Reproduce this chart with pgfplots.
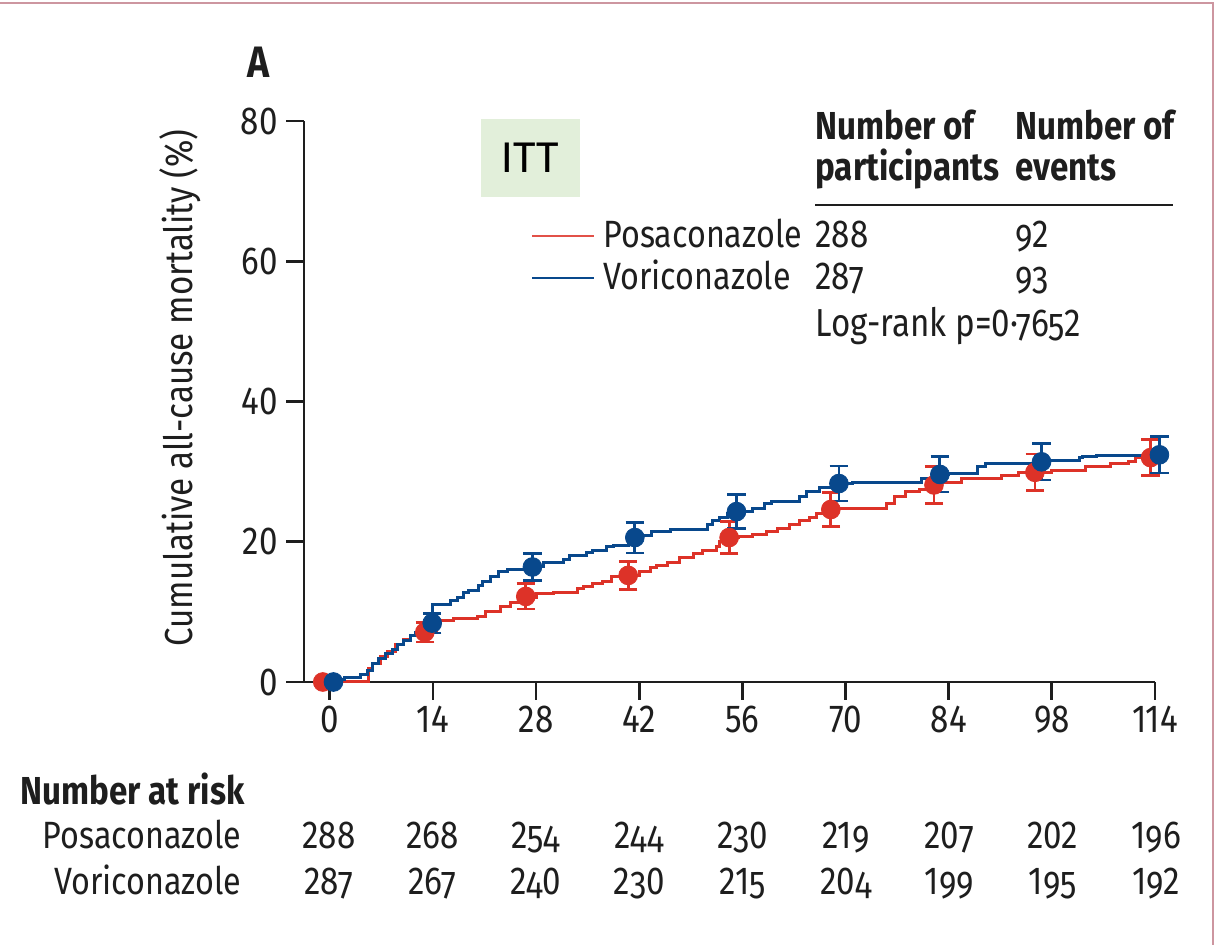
\documentclass[border=0pt]{standalone}
\usepackage{fontspec}
\setmainfont{Fira Sans}[FakeStretch=0.85]
\newfontfamily\osf{Fira Sans}[FakeStretch=0.85,Numbers=OldStyle]
\newfontfamily\lnf{Fira Sans}[FakeStretch=0.85,Numbers=Lining]
\newfontfamily\ittfont{Carlito}
\usepackage{pgfplots}
\pgfplotsset{compat=1.18}

\definecolor{posa}{RGB}{221,50,40}
\definecolor{vori}{RGB}{8,72,140}
\definecolor{ittbg}{RGB}{226,239,218}
\definecolor{framecol}{RGB}{205,150,160}
\definecolor{ink}{RGB}{30,30,30}

\newcommand{\fs}[1]{\fontsize{#1}{#1}\selectfont}

% hanging figures: 0, 1 and 2 at full height, the other digits old style
\makeatletter
\newcommand\hf[1]{\edef\hf@tmp{#1}\expandafter\hf@loop\hf@tmp\relax}
\def\hf@loop#1{\ifx#1\relax\else\hf@dig#1\expandafter\hf@loop\fi}
\def\hf@dig#1{\ifnum`#1<`3\relax{\lnf#1}\else{\osf#1}\fi}
\makeatother

\begin{document}
\begin{tikzpicture}
\path[use as bounding box] (0,0) rectangle (608pt,-472.5pt);

\begin{axis}[
  at={(152pt,-341pt)}, anchor=south west,
  scale only axis, width=425.5pt, height=280.5pt,
  xmin=-3.5, xmax=112, ymin=0, ymax=80,
  axis x line*=bottom, axis y line*=left,
  axis line style={line width=1.4pt, ink},
  xtick={0,14,28,42,56,70,84,98,112},
  xticklabels={0,14,28,42,56,70,84,98,114},
  ytick={0,20,40,60,80},
  tick align=outside, major tick length=9pt,
  tick style={line width=1.4pt, ink},
  ticklabel style={font=\fs{19.5}, text=ink},
  xticklabel style={inner sep=3pt},
  yticklabel style={inner sep=4pt},
  /pgf/number format/assume math mode=true,
  clip=false,
]

% Kaplan-Meier step curves
\addplot[const plot, posa, line width=1.5pt] coordinates {
 (0,0) (5.3,1.9) (5.8,2.6) (6.9,3.6) (7.8,4.4) (8.9,5.4) (10,6.1) (11,6.6)
 (12,7.1) (14.5,8.7) (16.8,9.0) (20,9.4) (21.1,10.0) (23.2,10.7) (24.5,11.4)
 (26.5,12.1) (28,12.6) (30.3,12.8) (33.6,13.3) (34.4,13.6) (35.7,14.0)
 (37,14.4) (38.3,15.0) (40,15.2) (42.1,15.7) (43.5,16.3) (44.4,16.6)
 (45.8,17.1) (47.5,17.7) (49.3,18.3) (50.6,18.7) (52.5,19.3) (52.9,20.0)
 (54,20.6) (55.5,20.8) (57.4,21.1) (59.3,21.5) (60.7,21.9) (62.4,22.5)
 (63.8,23.0) (65.1,23.5) (66,24.0) (67.5,24.4) (69,24.8) (75.5,25.4)
 (76.6,26.4) (78.2,27.1) (80,27.5) (81.4,28.0) (82.5,28.5) (85.8,29.0)
 (91.2,29.4) (93.5,29.9) (98,30.1) (102.6,30.7) (106,31.1) (108.4,31.5)
 (109.4,32.0) (112,32.0)
};
\addplot[const plot, vori, line width=1.5pt] coordinates {
 (0,0) (0.8,0.3) (2,0.6) (4.2,1.1) (5.1,1.6) (5.8,2.6) (6.6,3.3) (7.6,4.0)
 (8.5,4.7) (9.2,5.4) (10,5.9) (11,6.6) (11.6,7.1) (12.8,7.7) (13.4,8.4)
 (13.9,11.1) (16.4,11.6) (17.3,12.1) (18.1,12.7) (18.8,13.0) (20.2,13.7)
 (20.7,14.4) (21.8,15.1) (22.9,15.7) (24.1,16.1) (27,16.4) (29,17.1)
 (31.7,17.5) (32.6,18.0) (34.9,18.5) (35.7,18.8) (37.6,19.3) (38.5,19.5)
 (40.5,20.0) (41.2,20.6) (42.5,20.9) (43.7,21.4) (46.2,21.8) (51.2,22.5)
 (52,23.0) (52.9,23.5) (54,24.0) (55,24.3) (57.4,24.7) (59,25.4) (60,25.8)
 (63.8,26.5) (64.7,27.2) (66.5,27.8) (68.3,28.3) (71,28.5) (80.3,29.0)
 (82.3,29.6) (84,29.8) (87.9,30.7) (89,31.1) (96,31.4) (97.5,31.6)
 (101.7,32.0) (102.2,32.1) (104,32.3) (112,32.4)
};

% estimates with 95% CI at two-week intervals
\addplot[only marks, mark=*, mark size=4.7pt, color=posa,
  error bars/.cd, y dir=both, y explicit,
  error bar style={line width=1.4pt, posa},
  error mark options={rotate=90, mark size=4.6pt, line width=1.4pt, posa}]
  table[x=x, y=y, y error=e] {
  x      y     e
  -0.95  0     0
  12.9   7.1   1.4
  26.6   12.2  1.8
  40.5   15.2  2.0
  54.2   20.6  2.3
  68.0   24.6  2.4
  82.0   28.1  2.6
  95.7   29.9  2.6
  111.4  32.0  2.6
};
\addplot[only marks, mark=*, mark size=4.7pt, color=vori,
  error bars/.cd, y dir=both, y explicit,
  error bar style={line width=1.4pt, vori},
  error mark options={rotate=90, mark size=4.6pt, line width=1.4pt, vori}]
  table[x=x, y=y, y error=e] {
  x      y     e
  0.5    0     0
  13.9   8.4   1.4
  27.5   16.4  1.9
  41.4   20.6  2.2
  55.2   24.3  2.4
  69.1   28.3  2.5
  82.8   29.6  2.5
  96.6   31.4  2.6
  112.6  32.4  2.6
};
\end{axis}

\begin{scope}[x=0.5pt, y=-0.5pt]
  % panel frame
  \draw[framecol, line width=1pt] (0,3) -- (1213,3) -- (1213,945);
  % panel letter
  \node[anchor=base west, font=\bfseries\fs{22}, inner sep=0, text=ink] at (247,78) {A};
  % population tag
  \fill[ittbg] (481,119) rectangle (580,197);
  \node[font=\ittfont\fs{23}, text=black] at (530.5,158) {ITT};
  % y-axis title
  \node[rotate=90, font=\fs{19.5}, text=ink] at (180,388) {Cumulative all-cause mortality (\%)};
  % summary table
  \begin{scope}[every node/.style={anchor=base west, inner sep=0, text=ink}]
    \node[font=\bfseries\fs{19.5}] at (815,140) {Number of};
    \node[font=\bfseries\fs{19.5}] at (815,181) {participants};
    \node[font=\bfseries\fs{19.5}] at (1015,140) {Number of};
    \node[font=\bfseries\fs{19.5}] at (1015,181) {events};
    \node[font=\fs{19}] at (603,248) {Posaconazole};
    \node[font=\fs{19}] at (603,290) {Voriconazole};
    \node[font=\fs{19.5}] at (815,248) {\hf{288}};
    \node[font=\fs{19.5}] at (1015,248) {\hf{92}};
    \node[font=\fs{19.5}] at (815,290) {\hf{287}};
    \node[font=\fs{19.5}] at (1015,290) {\hf{93}};
    \node[font=\fs{19.5}] at (815,337) {Log-rank p=\hf{0·7652}};
    \node[font=\bfseries\fs{19.5}] at (20,805) {Number at risk};
  \end{scope}
  \draw[ink, line width=1.4pt] (815,205) -- (1173,205);
  \draw[posa!85, line width=1pt] (532,236) -- (594,236);
  \draw[vori, line width=1pt] (532,278) -- (594,278);
  \node[anchor=base east, inner sep=0, font=\fs{19}, text=ink] at (242,849) {Posaconazole};
  \node[anchor=base east, inner sep=0, font=\fs{19}, text=ink] at (242,895) {Voriconazole};
  % number at risk, one column per tick (103.4 units apart)
  \foreach \k/\p/\v in {0/288/287, 1/268/267, 2/254/240, 3/244/230,
    4/230/215, 5/219/204, 6/207/199, 7/202/195, 8/196/192} {
    \node[anchor=base, inner sep=0, font=\fs{19.5}, text=ink] at ({329+103.4*\k},849) {\hf{\p}};
    \node[anchor=base, inner sep=0, font=\fs{19.5}, text=ink] at ({329+103.4*\k},895) {\hf{\v}};
  }
\end{scope}
\end{tikzpicture}
\end{document}
